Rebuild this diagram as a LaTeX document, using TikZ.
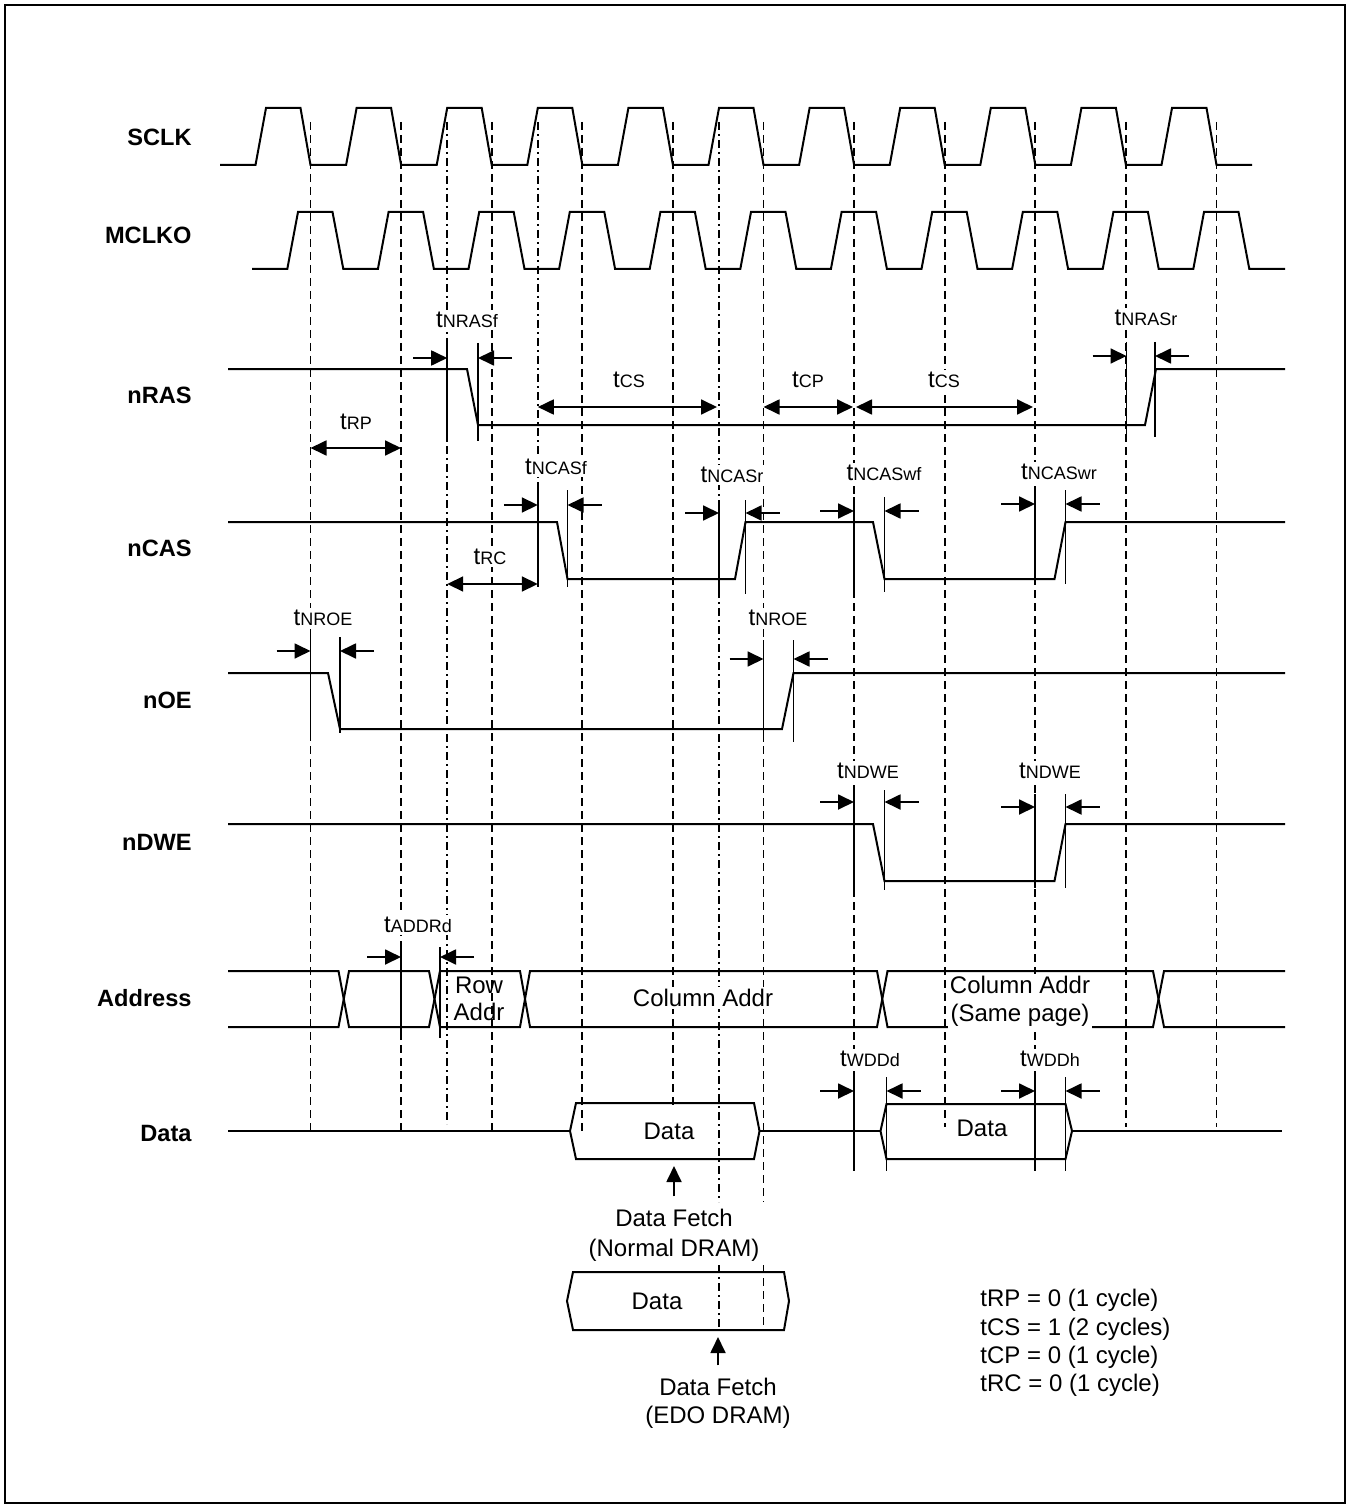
\documentclass[tikz,border=0pt]{standalone}
\usepackage{fontspec}
\setmainfont{Liberation Sans}
\usepackage{tikz}
\usetikzlibrary{arrows.meta}
\definecolor{ink}{HTML}{000000}
\newcommand{\tsym}[1]{{\fontsize{12}{14}\selectfont t}{\fontsize{9}{11}\selectfont #1}}
\newcommand{\edgemark}[8]{%
  \draw[tickline] (#2,#4) -- (#2,#5);
  \draw[tickline] (#3,#4) -- (#3,#5);
  \draw[arr] ({#2-34},#6) -- (#2,#6);
  \draw[arr] ({#3+34},#6) -- (#3,#6);
  \node[tlbl] (#1) at (#7) {\tsym{#8}};
}

\begin{document}
\begin{tikzpicture}[
  x=0.5pt, y=-0.5pt,
  sig/.style={line width=1pt, ink},
  guide/.style={line width=0.85pt, ink, dash pattern=on 4pt off 2.5pt},
  guidedot/.style={line width=0.85pt, ink, dash pattern=on 4pt off 2pt on 1pt off 2pt},
  tickline/.style={line width=0.75pt, ink},
  arr/.style={-{Triangle[length=8pt,width=7.5pt]}, line width=0.9pt, ink},
  dimarr/.style={{Triangle[length=8pt,width=7.5pt]}-{Triangle[length=8pt,width=7.5pt]}, line width=0.9pt, ink},
  lbl/.style={anchor=east, inner sep=0pt, font=\bfseries\fontsize{11.8}{14}\selectfont, text=ink},
  txt/.style={align=center, inner sep=1pt, font=\fontsize{12}{14}\selectfont, text=ink},
  tlbl/.style={fill=white, inner sep=1pt, text=ink}
]
  \useasboundingbox (0,0) rectangle (1350,1508);
  \draw[line width=1pt, ink] (5,5) rectangle (1345,1503);

  \foreach \k/\ye in {0/1131,1/1131,3/1131,4/1105,6/1077,7/1127,8/1077,9/1127,10/1127}
    \draw[guide] ({310.5+90.6*\k},122) -- ({310.5+90.6*\k},\ye);
  \draw[guide, line width=1.1pt] (491.7,122) -- (491.7,1131);
  \draw[guide] (763.5,122) -- (763.5,1202) (763.5,1265) -- (763.5,1330);
  \draw[guidedot] (447.2,122) -- (447.2,1124);
  \draw[guidedot] (537.8,122) -- (537.8,490);
  \draw[guidedot] (719,122) -- (719,1202) (719,1265) -- (719,1330);

  \node[lbl] (sclk) at (192,137) {SCLK};
  \node[lbl] (mclko) at (192,235) {MCLKO};
  \node[lbl] (nras) at (192,395) {nRAS};
  \node[lbl] (ncas) at (192,548) {nCAS};
  \node[lbl] (noe) at (192,700) {nOE};
  \node[lbl] (ndwe) at (192,842) {nDWE};
  \node[lbl] (addr) at (192,998) {Address};
  \node[lbl] (data) at (192,1133) {Data};

  \draw[sig] (220,165) foreach \k in {0,...,10} {
    -- ({255.5+90.6*\k},165) -- ({266+90.6*\k},108) -- ({300.5+90.6*\k},108) -- ({310.5+90.6*\k},165)} -- (1252,165);
  \draw[sig] (252,269) foreach \k in {0,...,10} {
    -- ({287.3+90.6*\k},269) -- ({298+90.6*\k},212) -- ({332.5+90.6*\k},212) -- ({343.3+90.6*\k},269)} -- (1285,269);
  \draw[sig] (228,369) -- (467,369) -- (478,425) -- (1145,425) -- (1156,369) -- (1285,369);
  \draw[sig] (228,522) -- (557,522) -- (567.5,579) -- (735,579) -- (745.5,522) -- (873,522) -- (884.5,579) -- (1054.5,579) -- (1065.5,522) -- (1285,522);
  \draw[sig] (228,673) -- (328,673) -- (340,729) -- (782,729) -- (793.5,673) -- (1285,673);
  \draw[sig] (228,824) -- (873,824) -- (884.5,881) -- (1054.5,881) -- (1065.5,824) -- (1285,824);
  \draw[sig] (228,971) -- (338.5,971) -- (349,1027) -- (429,1027) -- (440,971) -- (520,971) -- (530,1027) -- (877,1027) -- (887.5,971) -- (1153,971) -- (1164,1027) -- (1285,1027);
  \draw[sig] (228,1027) -- (338.5,1027) -- (349,971) -- (429,971) -- (440,1027) -- (520,1027) -- (530,971) -- (877,971) -- (887.5,1027) -- (1153,1027) -- (1164,971) -- (1285,971);
  \draw[sig] (228,1131) -- (570,1131) (759.5,1131) -- (880.5,1131) (1072,1131) -- (1282,1131);
  \draw[sig] (570,1131) -- (576,1103) -- (754,1103) -- (759.5,1131) -- (754,1159) -- (576,1159) -- cycle;
  \draw[sig] (880.5,1131) -- (886.5,1104) -- (1065.5,1104) -- (1072,1131) -- (1065.5,1159) -- (886.5,1159) -- cycle;
  \draw[sig] (567,1301) -- (573,1272) -- (784,1272) -- (789,1301) -- (784,1330) -- (573,1330) -- cycle;

  \edgemark{nrasf}{447.2}{478}{343}{441}{358}{467,320}{NRASf}
  \edgemark{nrasr}{1126.5}{1155}{342}{437}{356}{1146,318}{NRASr}
  \edgemark{ncasf}{537.8}{567.5}{490}{587}{505}{556,467}{NCASf}
  \edgemark{ncasr}{719}{745.5}{500}{594}{513}{732,475}{NCASr}
  \edgemark{ncaswf}{854}{884.5}{497}{592}{511}{884,473}{NCASwf}
  \edgemark{ncaswr}{1035}{1065.5}{490}{584}{504}{1059,472}{NCASwr}
  \edgemark{nroea}{310.5}{340}{637}{733}{651}{323,618}{NROE}
  \edgemark{nroeb}{763.5}{793.5}{640}{742}{659}{778,618}{NROE}
  \edgemark{ndwea}{854}{884.5}{790}{890}{802}{868,771}{NDWE}
  \edgemark{ndweb}{1035}{1065.5}{794}{888}{807}{1050,771}{NDWE}
  \edgemark{addrd}{401}{440}{947}{1038}{957}{418,925}{ADDRd}
  \edgemark{wddd}{854}{886.5}{1077}{1171}{1091}{870,1059}{WDDd}
  \edgemark{wddh}{1035}{1065.5}{1077}{1171}{1091}{1050,1059}{WDDh}

  \draw[dimarr] (310.5,448) -- (401,448);
  \node[tlbl] (trp) at (356,422) {\tsym{RP}};
  \draw[dimarr] (447.2,584) -- (537.8,584);
  \node[tlbl] (trc) at (490,557) {\tsym{RC}};
  \draw[dimarr] (537.8,407) -- (717,407);
  \node[tlbl] (tcsa) at (629,380) {\tsym{CS}};
  \draw[dimarr] (763.5,407) -- (853,407);
  \node[tlbl] (tcp) at (808,380) {\tsym{CP}};
  \draw[dimarr] (856,407) -- (1033,407);
  \node[tlbl] (tcsb) at (944,380) {\tsym{CS}};

  \node[txt] (rowaddr) at (479,998.5) {Row\\[-0.5pt]Addr};
  \node[txt, fill=white] (coladdr) at (703,998) {Column Addr};
  \node[txt, fill=white] (colsame) at (1020,1001.5) {Column Addr\\(Same page)};
  \node[txt] (dnorm) at (669,1131) {Data};
  \node[txt] (dwrite) at (982,1128) {Data};
  \node[txt] (dedo) at (657,1301) {Data};
  \node[txt] (fetchn) at (674,1235) {Data Fetch\\[1pt](Normal DRAM)};
  \node[txt] (fetche) at (718,1403) {Data Fetch\\(EDO DRAM)};
  \coordinate (fetchntip) at (674,1166);
  \coordinate (fetchetip) at (718,1337);
  \draw[arr] ([yshift=5pt]fetchn.north) -- (fetchntip);
  \draw[arr] ([yshift=5pt]fetche.north) -- (fetchetip);

  \node[anchor=west, align=left, inner sep=0pt, font=\fontsize{12}{14.15}\selectfont, text=ink] (legend) at (980,1343)
    {tRP = 0 (1 cycle)\\tCS = 1 (2 cycles)\\tCP = 0 (1 cycle)\\tRC = 0 (1 cycle)};
\end{tikzpicture}
\end{document}
